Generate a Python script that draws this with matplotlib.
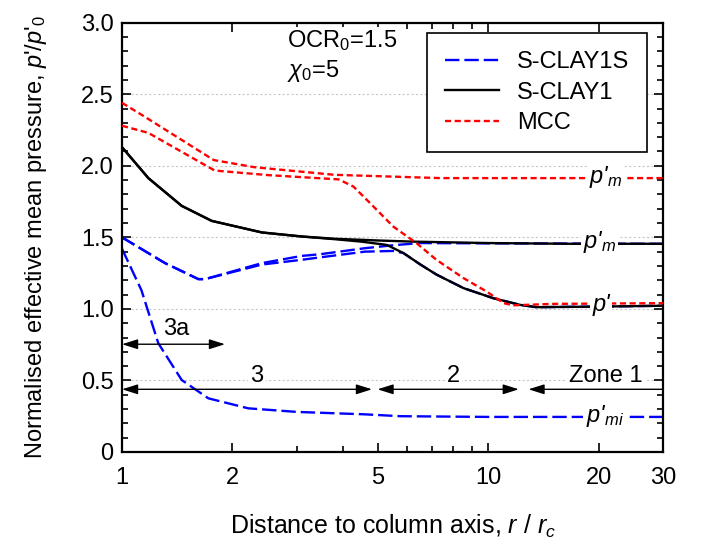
import numpy as np
import matplotlib
matplotlib.use('Agg')
import matplotlib.pyplot as plt
from matplotlib.ticker import FixedLocator, FixedFormatter, NullFormatter

plt.rcParams['font.family'] = ['Liberation Sans', 'DejaVu Sans']
plt.rcParams['mathtext.fontset'] = 'custom'
plt.rcParams['mathtext.rm'] = 'Liberation Sans'
plt.rcParams['mathtext.it'] = 'Liberation Sans:italic'
plt.rcParams['mathtext.bf'] = 'Liberation Sans:bold'

# ---------------- data ----------------
# MCC
mcc_pm_x = [1.0, 1.15, 1.78, 2.3, 3.8, 7.4, 30]
mcc_pm_y = [2.44, 2.345, 2.04, 1.99, 1.937, 1.914, 1.914]
mcc_p_x = [1.0, 1.18, 1.79, 2.5, 3.9, 4.28, 4.75, 5.5, 6.36, 7.21, 8.55, 9.9, 11.0, 11.7, 15, 30]
mcc_p_y = [2.28, 2.23, 1.967, 1.935, 1.905, 1.855, 1.74, 1.575, 1.46, 1.343, 1.215, 1.12, 1.04, 1.025, 1.035, 1.04]
# S-CLAY1
sc1_pm_x = [1.0, 1.18, 1.455, 1.757, 2.41, 3.09, 3.81, 5.0, 6.24, 10, 16.7, 30]
sc1_pm_y = [2.13, 1.914, 1.72, 1.615, 1.534, 1.506, 1.49, 1.478, 1.47, 1.46, 1.455, 1.455]
sc1_p_x = [1.0, 1.18, 1.455, 1.757, 2.41, 3.09, 3.81, 4.5, 5.28, 5.86, 6.52, 7.21, 8.55, 10.3, 12.2, 13.5, 20, 30]
sc1_p_y = [2.13, 1.914, 1.72, 1.615, 1.534, 1.506, 1.487, 1.47, 1.447, 1.39, 1.31, 1.24, 1.145, 1.075, 1.028, 1.012, 1.016, 1.022]
# S-CLAY1S
sc1s_pm_x = [1.0, 1.31, 1.616, 1.685, 2.41, 3.09, 3.47, 4.6, 5.5, 6.52, 10, 30]
sc1s_pm_y = [1.50, 1.32, 1.208, 1.208, 1.32, 1.37, 1.382, 1.424, 1.445, 1.46, 1.458, 1.455]
sc1s_p_x = [1.0, 1.31, 1.616, 1.685, 2.41, 3.09, 3.47, 4.6, 5.5, 5.86, 6.52, 7.21, 8.55, 10.3, 12.2, 13.5, 20, 30]
sc1s_p_y = [1.50, 1.32, 1.208, 1.208, 1.31, 1.343, 1.36, 1.40, 1.405, 1.39, 1.31, 1.24, 1.145, 1.075, 1.028, 1.012, 1.016, 1.022]
sc1s_pmi_x = [1.0, 1.13, 1.256, 1.455, 1.72, 2.21, 3.0, 4.6, 5.74, 10, 30]
sc1s_pmi_y = [1.42, 1.13, 0.76, 0.503, 0.375, 0.305, 0.28, 0.263, 0.25, 0.245, 0.245]

# zone arrows: (start, end, y)
zone3a = (1.0, 1.91, 0.753)
zone3 = (1.0, 4.81, 0.438)
zone2 = (4.98, 12.1, 0.438)
zone1 = (12.86, 30.0, 0.438)

xticks_major = [1, 2, 5, 10, 20, 30]
xtick_labels = ['1', '2', '5', '10', '20', '30']
xticks_minor = [3, 4, 6, 7, 8, 9]
yticks_major = [0, 0.5, 1.0, 1.5, 2.0, 2.5, 3.0]
ytick_labels = ['0', '0.5', '1.0', '1.5', '2.0', '2.5', '3.0']
yticks_minor = [v / 10 for v in range(0, 31)]

# ---------------- figure ----------------
fig = plt.figure(figsize=(7.02, 5.42), dpi=100)
ax = fig.add_axes([0.1738, 0.1661, 0.7711, 0.792])
ax.set_xscale('log')
ax.set_xlim(1, 30)
ax.set_ylim(0, 3)

blue = '#0000ff'
red = '#ff0000'
lw = 1.7
bdash = (6.1, 2.1)
rdash = (2.6, 1.5)

l_b, = ax.plot(sc1s_pm_x, sc1s_pm_y, color=blue, lw=lw, dashes=bdash, label='S-CLAY1S', zorder=2)
ax.plot(sc1s_p_x, sc1s_p_y, color=blue, lw=lw, dashes=bdash, zorder=2)
ax.plot(sc1s_pmi_x, sc1s_pmi_y, color=blue, lw=lw, dashes=bdash, zorder=2)
l_k, = ax.plot(sc1_pm_x, sc1_pm_y, color='black', lw=lw, label='S-CLAY1', zorder=3)
ax.plot(sc1_p_x, sc1_p_y, color='black', lw=lw, zorder=3)
l_r, = ax.plot(mcc_pm_x, mcc_pm_y, color=red, lw=lw, dashes=rdash, label='MCC', zorder=4)
ax.plot(mcc_p_x, mcc_p_y, color=red, lw=lw, dashes=rdash, zorder=4)

# grid
ax.yaxis.grid(True, which='major', color='#c8c8c8', linestyle=(0, (2, 2)), lw=0.8)
ax.set_axisbelow(True)

# ticks
ax.xaxis.set_major_locator(FixedLocator(xticks_major))
ax.xaxis.set_major_formatter(FixedFormatter(xtick_labels))
ax.xaxis.set_minor_locator(FixedLocator(xticks_minor))
ax.xaxis.set_minor_formatter(NullFormatter())
ax.yaxis.set_major_locator(FixedLocator(yticks_major))
ax.yaxis.set_major_formatter(FixedFormatter(ytick_labels))
ax.yaxis.set_minor_locator(FixedLocator(yticks_minor))
ax.tick_params(which='both', direction='in', top=True, right=True, width=1.2, labelsize=17)
ax.tick_params(which='major', length=6.5)
ax.tick_params(which='minor', length=4)
ax.tick_params(axis='x', which='major', pad=11)
ax.tick_params(axis='y', which='major', pad=6)
for s in ax.spines.values():
    s.set_linewidth(1.6)

ax.set_xlabel("Distance to column axis, $r$ / $r_c$", fontsize=18, labelpad=17)
ax.set_ylabel("Normalised effective mean pressure, $p$'/$p$'$_0$", fontsize=17, labelpad=23)

# legend
leg = ax.legend(handles=[l_b, l_k, l_r], loc='upper right', bbox_to_anchor=(0.970, 0.975),
                borderaxespad=0, fontsize=17, frameon=True, fancybox=False,
                edgecolor='black', framealpha=1, handlelength=2.3, handletextpad=0.76,
                labelspacing=0.36, borderpad=0.75)
leg.get_frame().set_linewidth(1.2)
leg.set_zorder(10)

wb = dict(facecolor='white', edgecolor='none', pad=1.5)

# parameters text
ax.text(2.82, 2.622, "OCR$_0$=1.5\n$\\chi_0$=5", fontsize=17, ha='left', va='baseline',
        linespacing=1.25, bbox=wb, zorder=6)

# curve labels
ax.text(18.78, mcc_pm_y[-1] - 0.035, "p'$_m$", fontsize=17, fontstyle='italic', ha='left', va='baseline', bbox=wb, zorder=6)
ax.text(18.1, sc1_pm_y[-1] - 0.03, "p'$_m$", fontsize=17, fontstyle='italic', ha='left', va='baseline', bbox=wb, zorder=6)
ax.text(19.2, sc1_p_y[-1] - 0.04, "p'", fontsize=17, fontstyle='italic', ha='left', va='baseline', bbox=wb, zorder=6)
ax.text(18.4, sc1s_pmi_y[-1] - 0.035, "p'$_{mi}$", fontsize=17, fontstyle='italic', ha='left', va='baseline', bbox=wb, zorder=6)

# zone arrows (drawn above the label boxes)
def zarrow(a, b, y, style):
    ax.annotate('', xy=(b, y), xytext=(a, y), xycoords='data',
                arrowprops=dict(arrowstyle=style + ',head_length=0.95,head_width=0.3',
                                mutation_scale=10, lw=1.0, color='black',
                                shrinkA=0, shrinkB=0), zorder=7, annotation_clip=False)

zarrow(*zone3a, '<|-|>')
zarrow(*zone3, '<|-|>')
zarrow(*zone2, '<|-|>')
zarrow(*zone1, '<|-')

ax.text(1.409, 0.818, "3a", fontsize=17, ha='center', va='baseline', zorder=6)
ax.text(2.333, 0.486, "3", fontsize=17, ha='center', va='baseline', bbox=wb, zorder=6)
ax.text(8.03, 0.486, "2", fontsize=17, ha='center', va='baseline', bbox=wb, zorder=6)
ax.text(20.9, 0.486, "Zone 1", fontsize=17, ha='center', va='baseline', bbox=wb, zorder=6)

fig.savefig('out.png', dpi=100)
